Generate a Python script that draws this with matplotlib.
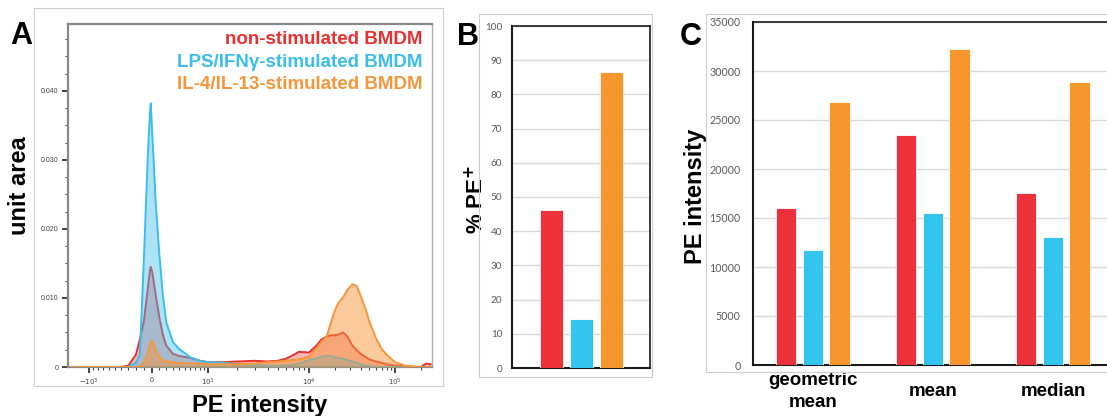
import numpy as np
import matplotlib.pyplot as plt
from matplotlib.patches import Rectangle

plt.rcParams['font.family'] = ['Liberation Sans', 'DejaVu Sans']

# ---------------------- data ----------------------
series_names = ['non-stimulated BMDM', 'LPS/IFNγ-stimulated BMDM', 'IL-4/IL-13-stimulated BMDM']
series_colors = ['#E8312F', '#3BBEEB', '#F6963A']
bar_colors = ['#EE313A', '#33C5EE', '#F7962C']

# panel A: PE histograms (unit area)
pe = [-1500, -1000, -600, -400, -300, -200, -150, -100, -50, -25, -15, 0, 25, 50, 100, 150, 200,
      300, 400, 600, 800, 1000, 1500, 2000, 3000, 4000, 5000, 6000, 7000, 8000, 10000, 12000,
      14000, 16000, 18000, 20000, 22000, 25000, 28000, 32000, 36000, 40000, 45000, 50000,
      60000, 70000, 80000, 100000, 130000, 160000, 200000, 230000, 260000]
hist_nonstim = [0, 0, 0, 0, 0.0002, 0.0018, 0.004, 0.0066, 0.0115, 0.014, 0.0145, 0.0139, 0.0123,
                0.0105, 0.0073, 0.0047, 0.0031, 0.0019, 0.0016, 0.0013, 0.0009, 0.0007, 0.0007,
                0.0008, 0.0009, 0.0008, 0.0009, 0.0012, 0.0017, 0.0022, 0.0021, 0.003, 0.004,
                0.0044, 0.0046, 0.0046, 0.0047, 0.005, 0.0044, 0.0031, 0.0024, 0.0019, 0.0015,
                0.0011, 0.0008, 0.0006, 0.0004, 0.0002, 0.0001, 0, 0, 0.0005, 0.0004]
hist_lps = [0, 0, 0, 0, 0, 0.0006, 0.0018, 0.0155, 0.031, 0.0368, 0.0382, 0.0345, 0.0295, 0.024,
            0.0165, 0.0105, 0.0065, 0.0036, 0.0026, 0.0014, 0.0009, 0.0007, 0.0006, 0.0004,
            0.0003, 0.0002, 0.0002, 0.0002, 0.0003, 0.0005, 0.001, 0.0012, 0.0015, 0.0016,
            0.0016, 0.0014, 0.0013, 0.0012, 0.001, 0.0008, 0.0006, 0.0004, 0.0002, 0.0001,
            0, 0, 0, 0, 0, 0, 0, 0, 0]
hist_il4 = [0, 0, 0, 0, 0, 0, 0.0001, 0.0006, 0.0021, 0.0032, 0.0036, 0.0038, 0.0033, 0.0025,
            0.0015, 0.001, 0.0008, 0.0007, 0.0006, 0.0005, 0.0005, 0.0004, 0.0004, 0.0004,
            0.0005, 0.0007, 0.0008, 0.0009, 0.001, 0.0011, 0.0015, 0.0026, 0.0037, 0.0044,
            0.0064, 0.0082, 0.0093, 0.0101, 0.0112, 0.012, 0.0117, 0.0103, 0.0086, 0.0067,
            0.0042, 0.0026, 0.0018, 0.0007, 0.0002, 0.0001, 0, 0, 0]
hists = [hist_nonstim, hist_lps, hist_il4]

y_ticks_a = [0, 0.010, 0.020, 0.030, 0.040]
y_ticklabels_a = ['0', '0.010', '0.020', '0.030', '0.040']
x_ticks_a = [-1000, 0, 1000, 10000, 100000]
x_ticklabels_a = [r'$-10^3$', '0', r'$10^3$', r'$10^4$', r'$10^5$']

# panel B: % PE+
pct_pe = [46.2, 14.2, 86.5]

# panel C: PE intensity statistics
stat_names = ['geometric\nmean', 'mean', 'median']
stat_nonstim = [16000, 23450, 17580]
stat_lps = [11700, 15480, 13090]
stat_il4 = [26800, 32200, 28900]
stats = [stat_nonstim, stat_lps, stat_il4]

# ---------------------- biexponential-like axis (FlowJo style) ----------------------
lin_w = 600.0
anchor_vals = np.array([-1000, 0, 1e3, 1e4, 1e5])
anchor_pos = np.array([89.0, 152.0, 208.0, 309.0, 395.0])
anchor_t = np.arcsinh(anchor_vals / lin_w)
s_lo = (anchor_pos[1] - anchor_pos[0]) / (anchor_t[1] - anchor_t[0])
s_hi = (anchor_pos[-1] - anchor_pos[-2]) / (anchor_t[-1] - anchor_t[-2])
T = np.concatenate([[-6.0], anchor_t, [10.0]])
P = np.concatenate([[anchor_pos[0] - (anchor_t[0] + 6.0) * s_lo], anchor_pos,
                    [anchor_pos[-1] + (10.0 - anchor_t[-1]) * s_hi]])


def fwd(x):
    return np.interp(np.arcsinh(np.asarray(x, dtype=float) / lin_w), T, P)


def inv(p):
    return lin_w * np.sinh(np.interp(np.asarray(p, dtype=float), P, T))


W, H = 1107, 416
fig = plt.figure(figsize=(W / 100, H / 100), dpi=100)


def fig_rect(x0, y0, x1, y1):
    # pixel box -> figure fraction
    return [x0 / W, 1 - y1 / H, (x1 - x0) / W, (y1 - y0) / H]


# outer light frames
for box in [(34, 8, 443, 386), (479, 14, 652, 377), (706, 14, 1118, 372)]:
    r = fig_rect(*box)
    fig.patches.append(Rectangle((r[0], r[1]), r[2], r[3], transform=fig.transFigure,
                                 fill=False, edgecolor='#cccccc', lw=0.8))

# ---------------------- panel A ----------------------
axA = fig.add_axes(fig_rect(68, 24, 432, 367))
axA.set_xscale('function', functions=(fwd, inv))
alphas = [0.35, 0.42, 0.5]
for i in range(3):
    axA.fill_between(pe, hists[i], 0, color=series_colors[i], alpha=alphas[i], lw=0, zorder=2 + i)
    axA.plot(pe, hists[i], color=series_colors[i], lw=1.4, zorder=2 + i)
axA.set_xlim(inv(68), inv(432))
axA.set_ylim(0, 0.0497)
axA.set_yticks(y_ticks_a)
axA.set_yticklabels(y_ticklabels_a)
axA.set_yticks(np.arange(0, 0.0497, 0.0025), minor=True)
axA.set_xticks(x_ticks_a)
axA.set_xticklabels(x_ticklabels_a)
minor_x = ([-v for v in range(100, 1000, 100)] + list(range(100, 1000, 100))
           + list(range(2000, 10000, 1000)) + list(range(20000, 100000, 10000)) + [200000])
axA.set_xticks(minor_x, minor=True)
axA.tick_params(axis='both', which='major', labelsize=5, labelcolor='#444444', length=4,
                width=1.2, color='#222222', pad=3)
axA.tick_params(axis='both', which='minor', length=2.5, width=0.8, color='#444444')
for side in ['left', 'bottom', 'top']:
    axA.spines[side].set_color('#8a8a8a')
    axA.spines[side].set_linewidth(1.6)
axA.spines['right'].set_color('#b0b0b0')
axA.spines['right'].set_linewidth(1.0)
axA.set_ylabel('unit area', fontsize=17, fontweight='bold')
axA.yaxis.set_label_coords(-0.102, 0.528)
axA.set_xlabel('PE intensity', fontsize=17, fontweight='bold')
axA.xaxis.set_label_coords(0.527, -0.08)
for i, (name, yy) in enumerate(zip(series_names, [0.956, 0.889, 0.825])):
    axA.text(0.975, yy, name, transform=axA.transAxes, ha='right', va='center',
             color=series_colors[i], fontsize=13.5, fontweight='bold', zorder=10)

# ---------------------- panel B ----------------------
axB = fig.add_axes(fig_rect(512, 26, 650, 368))
axB.bar(range(3), pct_pe, width=0.77, color=bar_colors, edgecolor='white', lw=0.6, zorder=3)
axB.set_xlim(-1.32, 3.28)
axB.set_ylim(0, 100)
axB.set_yticks(range(0, 101, 10))
axB.set_xticks([])
axB.yaxis.grid(True, color='#d9d9d9', lw=1.0, zorder=0)
axB.set_axisbelow(True)
axB.tick_params(axis='y', length=0, labelsize=7.2, labelcolor='#595959', pad=7)
for lab in axB.get_yticklabels():
    lab.set_fontfamily(['Lato', 'DejaVu Sans'])
for side in axB.spines:
    axB.spines[side].set_color('#1a1a1a')
    axB.spines[side].set_linewidth(1.2)
axB.spines['left'].set_linewidth(1.5)
axB.spines['bottom'].set_linewidth(1.5)
axB.set_ylabel(r'% PE$^{\mathbf{+}}$', fontsize=16, fontweight='bold')
axB.yaxis.set_label_coords(-0.174, 0.494)

# ---------------------- panel C ----------------------
axC = fig.add_axes(fig_rect(753, 22, 1113, 365))
x = np.arange(len(stat_names))
offsets = [-0.225, 0.0, 0.22]
for i in range(3):
    axC.bar(x + offsets[i], stats[i], width=0.17, color=bar_colors[i], edgecolor='white',
            lw=0.6, zorder=3)
axC.set_xlim(-0.5, 2.5)
axC.set_ylim(0, 35000)
axC.set_yticks(range(0, 35001, 5000))
axC.set_xticks(x)
axC.set_xticklabels(stat_names, fontsize=13.5, fontweight='bold', va='center', linespacing=1.4)
axC.yaxis.grid(True, color='#d9d9d9', lw=1.0, zorder=0)
axC.set_axisbelow(True)
axC.tick_params(axis='y', length=0, labelsize=7.7, labelcolor='#595959', pad=9)
axC.tick_params(axis='x', length=0, pad=19)
for lab in axC.get_yticklabels():
    lab.set_fontfamily(['Lato', 'DejaVu Sans'])
for side in axC.spines:
    axC.spines[side].set_color('#1a1a1a')
    axC.spines[side].set_linewidth(1.2)
axC.spines['left'].set_linewidth(1.5)
axC.spines['bottom'].set_linewidth(1.5)
axC.set_ylabel('PE intensity', fontsize=17, fontweight='bold')
axC.yaxis.set_label_coords(-0.129, 0.493)

# panel letters
for letter, px, py in [('A', 21, 36), ('B', 468, 37), ('C', 691, 37)]:
    fig.text(px / W, 1 - py / H, letter, fontsize=22, fontweight='bold', ha='center', va='center')

fig.savefig('out.png', dpi=100)
